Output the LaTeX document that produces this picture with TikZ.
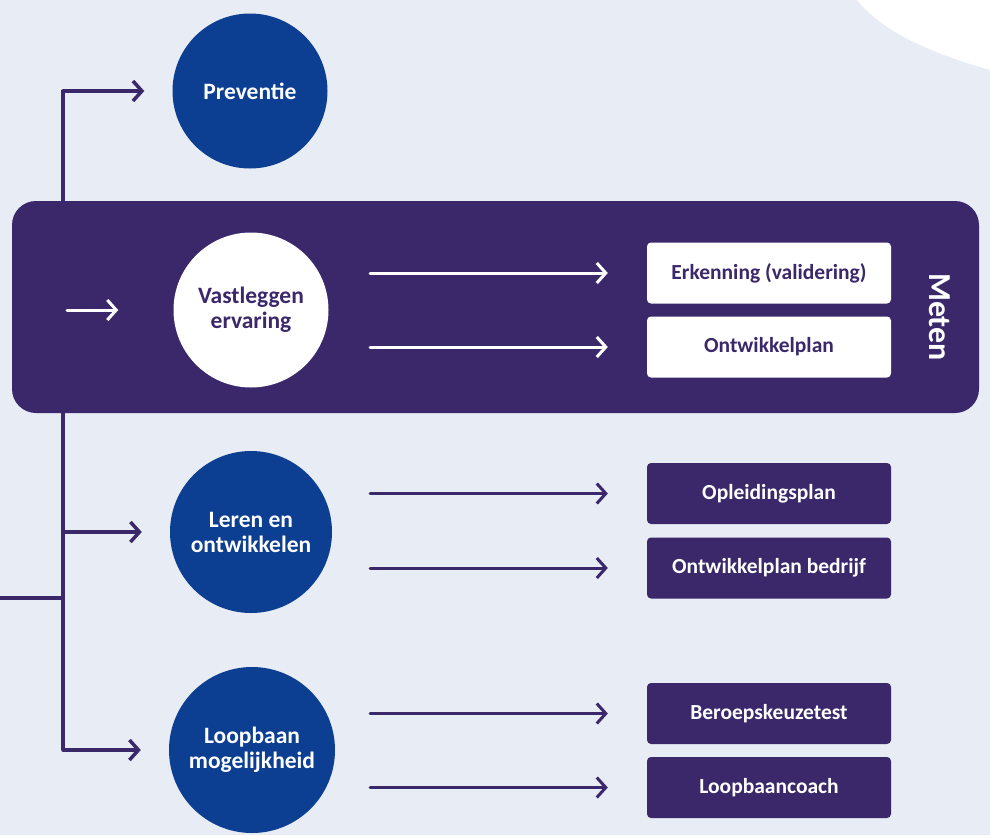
\documentclass[tikz,border=0pt]{standalone}
\usepackage{fontspec}
\setmainfont{Carlito}
\usetikzlibrary{arrows.meta}
\definecolor{achtergrond}{RGB}{232,236,244}
\definecolor{diepblauw}{RGB}{12,62,146}
\definecolor{paars}{RGB}{58,40,107}

\tikzset{
  bol/.style={circle,fill=diepblauw,text=white,minimum size=155pt,inner sep=0pt,align=center,
    font=\fontsize{23.5}{25}\selectfont\bfseries},
  vak/.style={rectangle,rounded corners=4pt,fill=paars,text=white,minimum width=244pt,minimum height=61pt,
    inner sep=0pt,font=\fontsize{21.5}{24}\selectfont\bfseries},
  witvak/.style={vak,fill=white,text=paars},
  pijl/.style={draw=paars,line width=3pt,->},
  witpijl/.style={pijl,draw=white}
}

\begin{document}
\begin{tikzpicture}[x=1pt,y=-1pt,line cap=round,>={Straight Barb[length=9pt,width=20pt]}]
            \useasboundingbox (0,0) rectangle (990,835);

            % background and the white corner
            \fill[achtergrond] (0,0) rectangle (990,835);
            \fill[white] (857,0) .. controls (880,28) and (920,50) .. (990,70) -- (990,0) -- cycle;

            % the trunk on the left
            \coordinate (stam) at (63,0);
            \coordinate (instroom) at (0,598);
            \draw[paars,line width=3.5pt,line cap=butt] (63,90) -- (63,750);
            \draw[paars,line width=3.5pt,line cap=butt] (instroom) -- (instroom -| stam);

            % the band with Meten
            \fill[paars,rounded corners=24pt] (12,201) rectangle (979,413);
            \node[rotate=-90,text=white,font=\fontsize{32}{34}\selectfont\bfseries] (meten) at (940,317) {Meten};

            % the circles
            \node[bol] (prev) at (250,91) {Preventie};
            \node[bol,fill=white,text=paars] (vast) at (251,310) {Vastleggen\\ervaring};
            \node[bol,minimum size=162pt] (leren) at (251,532) {Leren en\\ontwikkelen};
            \node[bol,minimum size=166pt] (loop) at (252,750) {Loopbaan\\mogelijkheid};

            % the boxes
            \node[witvak] (erk) at (769,273) {Erkenning (validering)};
            \node[witvak] (ontw) at (769,347) {Ontwikkelplan};
            \node[vak] (opl) at (769,493.5) {Opleidingsplan};
            \node[vak] (bedr) at (769,568) {Ontwikkelplan bedrijf};
            \node[vak] (ber) at (769,713.5) {Beroepskeuzetest};
            \node[vak] (coach) at (769,787.5) {Loopbaancoach};

            % arrows from the trunk
            \foreach \c in {prev,leren,loop}
                \draw[pijl,line width=3.5pt,shorten >=28pt] (\c.west -| stam) -- (\c.west);
            \draw[witpijl,shorten <=4pt,shorten >=55pt] (vast.west -| stam) -- (vast.west);

            % arrows to the boxes
            \coordinate (pijlstart) at (370,0);
            \foreach \b in {erk,ontw}
                \draw[witpijl,shorten >=39pt] (\b.west -| pijlstart) -- (\b.west);
            \foreach \b in {opl,bedr,ber,coach}
                \draw[pijl,shorten >=39pt] (\b.west -| pijlstart) -- (\b.west);
        \end{tikzpicture}
\end{document}
